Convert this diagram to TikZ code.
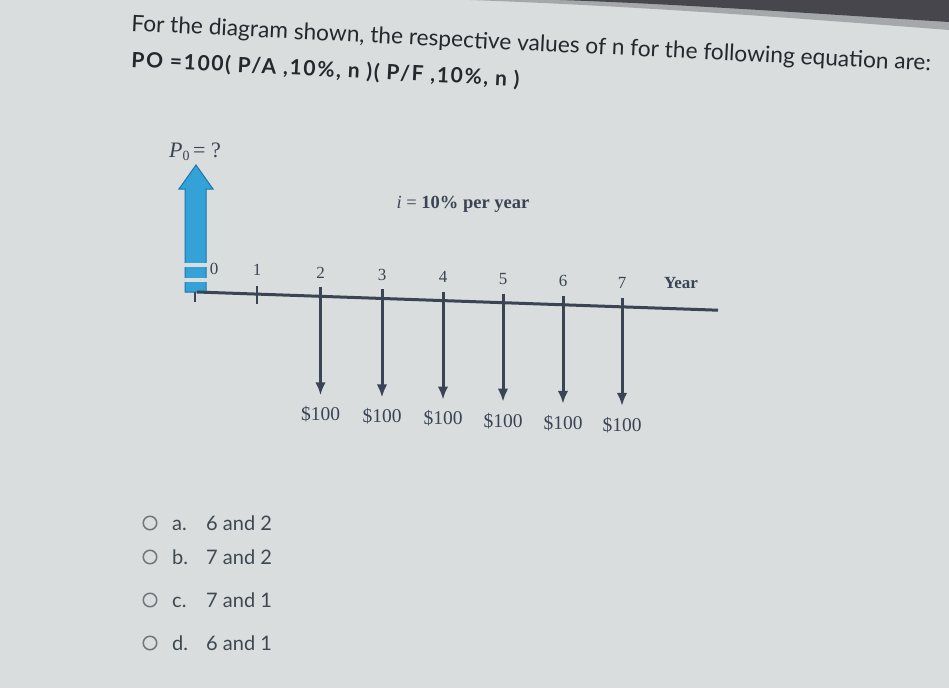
\documentclass[tikz,border=0pt]{standalone}
\usepackage{fontspec}
\setmainfont{Lato}
\newfontfamily\tms{Liberation Serif}
\newfontfamily\latowide[LetterSpace=8]{Lato}
\usetikzlibrary{arrows.meta}
\definecolor{bg}{RGB}{217,221,221}
\definecolor{band}{RGB}{70,70,76}
\definecolor{ink}{RGB}{58,68,84}
\definecolor{headc}{RGB}{36,40,46}
\definecolor{optc}{RGB}{62,72,82}
\definecolor{ringc}{RGB}{112,118,124}
\definecolor{blue1}{RGB}{52,162,214}
\definecolor{blue2}{RGB}{26,118,172}
\begin{document}
\begin{tikzpicture}[x=1pt,y=-1pt,
  cfarrow/.style={draw=ink,line width=3pt,-{Latex[length=13pt,width=10.5pt]}},
  axisline/.style={draw=ink,line width=3pt},
  ticklab/.style={font=\tms\fontsize{17}{17}\selectfont,text=ink,inner sep=0pt},
  amt/.style={font=\tms\fontsize{19.5}{19.5}\selectfont,text=ink,inner sep=0pt},
  hdr/.style={font=\fontsize{22.7}{22.7}\selectfont,text=headc,inner sep=0pt,anchor=base west,rotate=-2.85},
  hdrb/.style={font=\latowide\bfseries\fontsize{21}{21}\selectfont,text=headc,inner sep=0pt,anchor=base west,rotate=-2.85},
  ring/.style={draw=ringc,line width=1.5pt,circle,minimum size=13.5pt,inner sep=0pt},
  opt/.style={font=\fontsize{20}{20}\selectfont,text=optc,inner sep=0pt,anchor=base west},
]
\useasboundingbox (0,0) rectangle (949,688);
% background
\fill[bg] (0,0) rectangle (949,688);
\fill[band,opacity=0.35] (470,0) -- (949,0) -- (949,30) .. controls (820,20) and (640,6) .. (470,0) -- cycle;
\fill[band] (560,0) -- (949,0) -- (949,22) .. controls (820,14) and (680,4) .. (560,0) -- cycle;

% header
\node[hdr] (q1) at (131,31) {For the diagram shown, the respective values of n for the following equation are:};
\node[hdrb] (q2) at (131,67) {PO =100( P/A ,10\%, n )( P/F ,10\%, n )};

% blue arrow P0
\fill[blue1,draw=blue2,line width=1pt] (185,292) -- (185,189) -- (179,189) -- (196,165) -- (213,189) -- (206,189) -- (206,292) -- cycle;
\fill[bg] (184,263) rectangle (207,267);
\fill[bg] (184,278) rectangle (207,282);
\node[font=\tms\fontsize{22}{22}\selectfont,text=ink,inner sep=0pt] (p0) at (195,152) {\textit{P}\raisebox{-0.35ex}{\fontsize{14}{14}\selectfont 0}\,= ?};

% axis
\coordinate (ax0) at (197,292);
\coordinate (axend) at (718,310.2);
\draw[axisline] (ax0) -- (axend);
\coordinate (t0a) at (195,292);
\coordinate (t0b) at (195,302);
\draw[draw=ink,line width=2.4pt] (t0a) -- (t0b);
\coordinate (t1a) at (257,286);
\coordinate (t1b) at (257,304);
\draw[draw=ink,line width=2.4pt] (t1a) -- (t1b);
\node[ticklab] (l0) at (214,269) {0};
\node[ticklab] (l1) at (257,270) {1};

\foreach \k/\x in {2/320.5,3/382,4/443,5/503,6/563,7/622}{
  \pgfmathsetmacro\ay{292+0.035*(\x-197)}
  \coordinate (top\k) at (\x,{\ay-9});
  \coordinate (tip\k) at (\x,{\ay+99});
  \draw[cfarrow] (top\k) -- (tip\k);
  \node[ticklab] (l\k) at (\x,{\ay-23.5}) {\k};
  \node[amt] (m\k) at (\x,{\ay+118}) {\$100};
}
\node[font=\tms\bfseries\fontsize{17}{17}\selectfont,text=ink,inner sep=0pt] (yr) at (681,283.5) {Year};
\node[font=\tms\fontsize{18.5}{18.5}\selectfont,text=ink,inner sep=0pt] (rate) at (463,204) {\textit{i} = \textbf{10\% per year}};

% options
\node[ring] (ra) at (150,523) {};
\node[ring] (rb) at (150,557) {};
\node[ring] (rc) at (150,600) {};
\node[ring] (rd) at (150,643) {};
\node[opt] (la) at (172,530) {a.};
\node[opt] (lb) at (172,564) {b.};
\node[opt] (lc) at (172,607) {c.};
\node[opt] (ld) at (172,650) {d.};
\node[opt] (aa) at (206,530) {6 and 2};
\node[opt] (ab) at (206,564) {7 and 2};
\node[opt] (ac) at (206,607) {7 and 1};
\node[opt] (ad) at (206,650) {6 and 1};
\end{tikzpicture}
\end{document}
